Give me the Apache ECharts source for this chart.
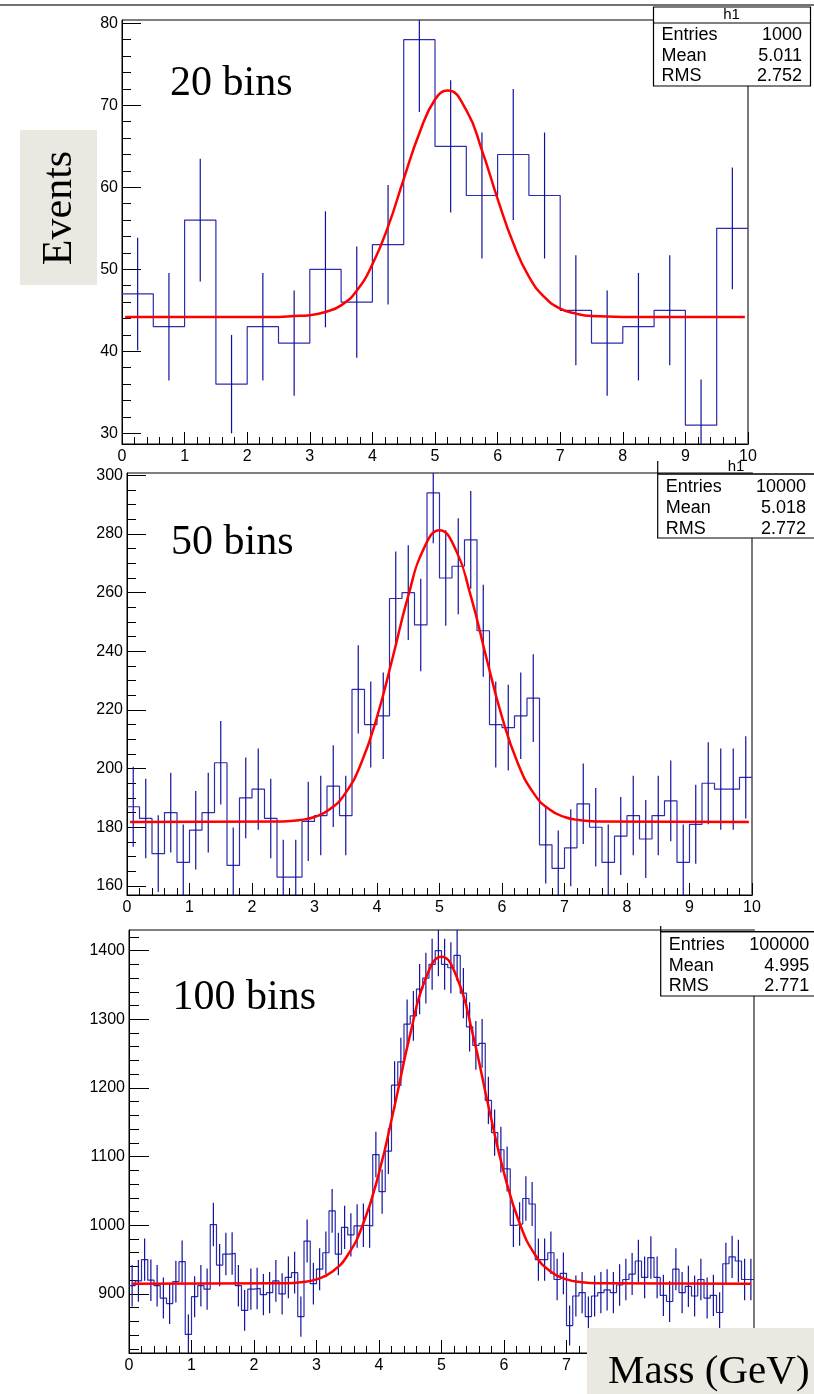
<!DOCTYPE html>
<html><head><meta charset="utf-8">
<script src="https://cdn.jsdelivr.net/npm/echarts@6/dist/echarts.min.js"></script>
<style>html,body{margin:0;padding:0;background:#fff}#c{width:814px;height:1394px}</style>
</head><body><div id="c"></div>
<script>
// ---------- data ----------
const counts20 = [47,43,56,36,43,41,50,46,53,78,65,59,64,59,45,41,43,45,31,55];
const counts50 = [187,183,171,185,168,179,185,202,167,190,193,183,163,163,182,184,194,184,227,215,
                  218,258,260,249,294,265,269,278,247,215,214,218,224,174,166,173,188,180,168,177,
                  184,176,184,189,168,181,195,193,193,197];
const counts100 = [912,919,950,920,912,894,886,918,947,841,896,912,907,1001,942,958,959,912,876,907,
                   908,899,902,919,900,924,931,867,977,915,936,960,1021,958,997,986,999,1000,999,1103,
                   1049,1108,1204,1238,1293,1305,1344,1360,1380,1400,1380,1375,1393,1338,1289,1262,1265,1182,1135,1110,
                   1082,1000,1002,1039,1031,950,950,960,921,930,854,897,902,867,897,902,906,902,913,921,
                   929,948,924,953,924,898,889,936,902,911,897,921,894,898,873,944,954,948,921,921];

const fitX1 = [0.05,2.5,2.75,3,3.25,3.5,3.75,4,4.25,4.5,4.75,5,5.2,5.5,5.75,6,6.25,6.5,6.75,7,7.25,7.5,8,9.95];
const fitY1 = [44.2,44.2,44.3,44.4,44.8,45.6,47.4,50.6,55.2,61.0,66.6,70.7,71.8,69.4,64.5,58.6,53.2,49.1,46.6,45.2,44.6,44.3,44.2,44.2];
const fitX2 = [0.05,2.5,2.75,3,3.25,3.5,3.75,4,4.25,4.5,4.75,5,5.25,5.5,5.75,6,6.25,6.5,6.75,7,7.25,7.5,9.95];
const fitY2 = [181.8,182.0,182.4,183.5,186.2,191.8,202.0,217.6,237.8,258.9,275.1,281.3,275.1,258.9,237.8,217.6,202.0,191.8,186.2,183.5,182.4,182.0,181.8];
const fitX3 = [0.05,2.5,2.75,3,3.25,3.5,3.75,4,4.25,4.5,4.75,5,5.25,5.5,5.75,6,6.25,6.5,6.75,7,7.25,7.5,9.95];
const fitY3 = [915,915.6,917.0,921.3,932.3,956.7,1002.9,1076.4,1174.1,1278.3,1360.0,1391,1360.0,1278.3,1174.1,1076.4,1002.9,956.7,932.3,921.3,917.0,915.6,915];

const yTicks1 = [30,40,50,60,70,80];
const yTicks2 = [160,180,200,220,240,260,280,300];
const yTicks3 = [900,1000,1100,1200,1300,1400];
const binLabels = ['20 bins','50 bins','100 bins'];
const statNames = ['Entries','Mean','RMS'];
const stats1 = ['1000','5.011','2.752'];
const stats2 = ['10000','5.018','2.772'];
const stats3 = ['100000','4.995','2.771'];
const histTitle = 'h1';
const xAxisTitle = 'Mass (GeV)';
const yAxisTitle = 'Events';

// ---------- helpers ----------
function range(a, b, s){ const r=[]; for(let v=a; v<=b+1e-9; v+=s) r.push(+v.toFixed(6)); return r; }
const FONT = '"Liberation Sans", Arial, Helvetica, sans-serif';
const SERIF = '"Liberation Serif", "Times New Roman", serif';
const HIST = '#2c2cae', ERR = '#10109c';

const panels = [
  {counts:counts20, fx:fitX1, fy:fitY1, yMin:28.7, yMax:80.4, major:yTicks1, minor:range(30,80,2),
   grid:{left:122, top:20, width:626, height:424}, yTick:19, yMinorTick:9, xTick:12, xMinorTick:7},
  {counts:counts50, fx:fitX2, fy:fitY2, yMin:156.9, yMax:300.8, major:yTicks2, minor:range(160,300,5),
   grid:{left:127, top:473, width:625, height:422}, yTick:19, yMinorTick:9, xTick:12, xMinorTick:7},
  {counts:counts100, fx:fitX3, fy:fitY3, yMin:814, yMax:1430, major:yTicks3, minor:range(820,1420,20),
   grid:{left:129, top:930, width:625, height:423}, yTick:20, yMinorTick:10, xTick:13, xMinorTick:7}
];

const grids=[], xAxes=[], yAxes=[], series=[];
panels.forEach((p, i) => {
  grids.push(Object.assign({show:true, borderColor:'#000', borderWidth:1, backgroundColor:'#fff', containLabel:false}, p.grid));
  xAxes.push({gridIndex:i, type:'value', min:0, max:10, interval:1, position:'bottom',
    axisLine:{show:true, onZero:false, lineStyle:{color:'#000', width:1}},
    axisTick:{show:true, inside:true, length:p.xTick, lineStyle:{color:'#000', width:1}},
    axisLabel:{show:true, margin:5, fontSize:16, fontFamily:FONT, color:'#000', formatter:v => String(v)},
    splitLine:{show:false}});
  xAxes.push({gridIndex:i, type:'value', min:0, max:10, interval:0.2, position:'bottom',
    axisLine:{show:false, onZero:false},
    axisTick:{show:true, inside:true, length:p.xMinorTick, lineStyle:{color:'#000', width:1}},
    axisLabel:{show:false}, splitLine:{show:false}});
  yAxes.push({gridIndex:i, type:'value', min:p.yMin, max:p.yMax, position:'left',
    axisLine:{show:true, onZero:false, lineStyle:{color:'#000', width:1}},
    axisTick:{show:true, inside:true, length:p.yTick, customValues:p.major, lineStyle:{color:'#000', width:1}},
    axisLabel:{show:true, customValues:p.major, margin:4, fontSize:16, fontFamily:FONT, color:'#000', formatter:v => String(v)},
    splitLine:{show:false}});
  yAxes.push({gridIndex:i, type:'value', min:p.yMin, max:p.yMax, position:'left',
    axisLine:{show:false, onZero:false},
    axisTick:{show:true, inside:true, length:p.yMinorTick, customValues:p.minor, lineStyle:{color:'#000', width:1}},
    axisLabel:{show:false}, splitLine:{show:false}});
  yAxes.push({gridIndex:i, type:'value', min:p.yMin, max:p.yMax, position:'right',
    axisLine:{show:true, onZero:false, lineStyle:{color:'#7a7a7a', width:2}},
    axisTick:{show:false}, axisLabel:{show:false}, splitLine:{show:false}});

  const n = p.counts.length, w = 10 / n;
  const hist = p.counts.map((c, k) => [k * w, c]);
  hist.push([10, p.counts[n - 1]]);
  const err = p.counts.map((c, k) => [(k + 0.5) * w, c, Math.sqrt(c)]);
  const fit = p.fx.map((x, k) => [x, p.fy[k]]);

  series.push({type:'line', xAxisIndex:2*i, yAxisIndex:3*i, data:hist, step:'end', symbol:'none',
    lineStyle:{color:HIST, width:1.2}, animation:false, clip:true, z:3});
  series.push({type:'custom', xAxisIndex:2*i, yAxisIndex:3*i, data:err, animation:false, z:4,
    encode:{x:0, y:1},
    renderItem:function(params, api){
      const x = api.value(0), v = api.value(1), e = api.value(2);
      const a = api.coord([x, v + e]), b = api.coord([x, v - e]);
      const cs = params.coordSys;
      const y1 = Math.max(cs.y, a[1]), y2 = Math.min(cs.y + cs.height, b[1]);
      return {type:'line', shape:{x1:a[0], y1:y1, x2:a[0], y2:y2}, style:{stroke:ERR, lineWidth:1.2}};
    }});
  series.push({type:'line', xAxisIndex:2*i, yAxisIndex:3*i, data:fit, smooth:0.5, symbol:'none',
    lineStyle:{color:'#ff0000', width:2.5}, animation:false, clip:true, z:5});
});

// ---------- decorations ----------
function statBox(x, top, headY, bottom, w, rowsY, labX, valX, vals, titleY, titleX, showTitle){
  const els = [
    {type:'rect', shape:{x:x, y:top, width:w, height:bottom-top}, style:{fill:'#fff', stroke:'#000', lineWidth:1.2}, z:100},
    {type:'line', shape:{x1:x, y1:headY, x2:x+w, y2:headY}, style:{stroke:'#000', lineWidth:1.2}, z:101}
  ];
  if (showTitle) els.push({type:'text', x:titleX, y:titleY, style:{text:histTitle, fontSize:15, fontFamily:FONT, fill:'#000', align:'center', verticalAlign:'middle'}, z:101});
  statNames.forEach((nm, k) => {
    els.push({type:'text', x:labX, y:rowsY[k], style:{text:nm, fontSize:18, fontFamily:FONT, fill:'#000', align:'left', verticalAlign:'middle'}, z:101});
    els.push({type:'text', x:valX, y:rowsY[k], style:{text:vals[k], fontSize:18, fontFamily:FONT, fill:'#000', align:'right', verticalAlign:'middle'}, z:101});
  });
  return els;
}

const graphic = [].concat(
  [{type:'line', shape:{x1:0, y1:5, x2:814, y2:5}, style:{stroke:'#444', lineWidth:1.5}, z:100}],
  statBox(653.5, 7, 23, 86, 157, [35.4, 56.4, 76.4], 661.5, 802, stats1, 14.5, 731.5, true),
  statBox(657.7, 474, 474, 538, 160, [487.4, 508, 528.7], 665.7, 806, stats2, 0, 0, false),
  [{type:'line', shape:{x1:657.7, y1:461, x2:657.7, y2:474}, style:{stroke:'#000', lineWidth:1.2}, z:101},
   {type:'text', x:736, y:474, style:{text:histTitle, fontSize:15, fontFamily:FONT, fill:'#000', align:'center', verticalAlign:'bottom'}, z:101}],
  statBox(660.7, 931.7, 931.7, 996, 160, [945.4, 965.7, 986.4], 668.7, 809.3, stats3, 0, 0, false),
  [{type:'line', shape:{x1:660.7, y1:926, x2:660.7, y2:932}, style:{stroke:'#000', lineWidth:1.2}, z:101}],
  [
    {type:'text', x:170, y:83.5, style:{text:binLabels[0], fontSize:42, fontFamily:SERIF, fill:'#000', align:'left', verticalAlign:'middle'}, z:90},
    {type:'text', x:171, y:542.5, style:{text:binLabels[1], fontSize:42, fontFamily:SERIF, fill:'#000', align:'left', verticalAlign:'middle'}, z:90},
    {type:'text', x:172.5, y:997.5, style:{text:binLabels[2], fontSize:42, fontFamily:SERIF, fill:'#000', align:'left', verticalAlign:'middle'}, z:90},
    {type:'rect', shape:{x:20, y:130, width:77, height:155}, style:{fill:'#ebe8e2'}, z:110},
    {type:'text', x:60, y:208, rotation:Math.PI/2, style:{text:yAxisTitle, fontSize:42, fontFamily:SERIF, fill:'#000', align:'center', verticalAlign:'middle'}, z:111},
    {type:'rect', shape:{x:587, y:1328, width:227, height:66}, style:{fill:'#ebe8e2'}, z:110},
    {type:'text', x:608, y:1372.5, style:{text:xAxisTitle, fontSize:41, fontFamily:SERIF, fill:'#000', align:'left', verticalAlign:'middle'}, z:111}
  ]
);

const chart = echarts.init(document.getElementById('c'), null, {renderer:'canvas', width:814, height:1394});
chart.setOption({
  animation:false,
  backgroundColor:'#fff',
  grid:grids, xAxis:xAxes, yAxis:yAxes, series:series, graphic:graphic
});
</script></body></html>
